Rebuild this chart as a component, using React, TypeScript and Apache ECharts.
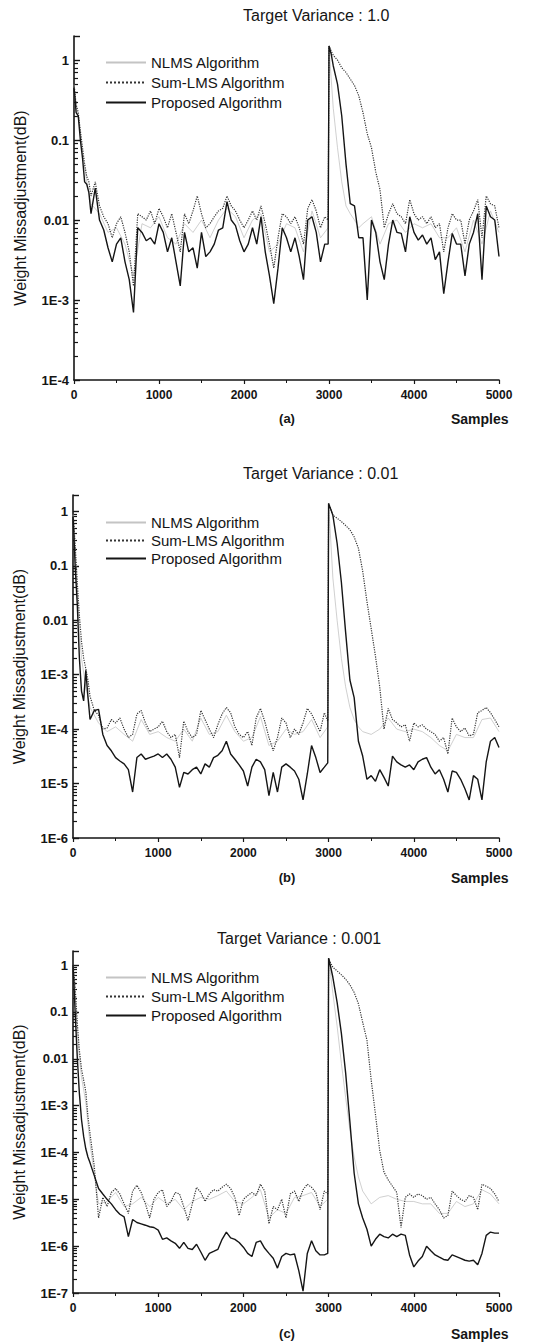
import React, { useEffect, useRef } from 'react';
import * as echarts from 'echarts';

// Sample positions (shared by Sum-LMS and Proposed curves)
const X = [0, 10, 25, 50, 75, 100, 125, 150, 175, 200, 250, 300, 350, 400, 450, 500, 550, 600, 650, 700, 750, 800, 850, 900, 950, 1000, 1050, 1100, 1150, 1200, 1250, 1300, 1350, 1400, 1450, 1500, 1550, 1600, 1650, 1700, 1750, 1800, 1850, 1900, 1950, 2000, 2050, 2100, 2150, 2200, 2250, 2300, 2350, 2400, 2450, 2500, 2550, 2600, 2650, 2700, 2750, 2800, 2850, 2900, 2950, 2990, 3000, 3025, 3050, 3100, 3150, 3200, 3250, 3300, 3350, 3400, 3450, 3500, 3550, 3600, 3650, 3700, 3750, 3800, 3850, 3900, 3950, 4000, 4050, 4100, 4150, 4200, 4250, 4300, 4350, 4400, 4450, 4500, 4550, 4600, 4650, 4700, 4750, 4800, 4850, 4900, 4950, 5000];

// Sample positions for the faint NLMS curves
const NX = [0, 10, 25, 50, 75, 100, 150, 200, 300, 400, 500, 600, 700, 800, 900, 1000, 1100, 1200, 1300, 1400, 1500, 1600, 1700, 1800, 1900, 2000, 2100, 2200, 2300, 2400, 2500, 2600, 2700, 2800, 2900, 2990, 3000, 3025, 3050, 3100, 3150, 3200, 3250, 3300, 3350, 3400, 3500, 3600, 3700, 3800, 3900, 4000, 4100, 4200, 4300, 4400, 4500, 4600, 4700, 4800, 4900, 5000];

// (a) Target variance 1.0
const propA = [0.45, 0.35, 0.22, 0.2, 0.1, 0.06, 0.03, 0.028, 0.022, 0.012,
  0.025, 0.01, 0.0075, 0.0045, 0.003, 0.005, 0.006, 0.003, 0.0018, 0.0007,
  0.008, 0.007, 0.0055, 0.006, 0.005, 0.009, 0.007, 0.004, 0.006, 0.003,
  0.0015, 0.007, 0.004, 0.0045, 0.0025, 0.007, 0.0035, 0.004, 0.005, 0.0075,
  0.008, 0.017, 0.01, 0.0085, 0.0055, 0.004, 0.005, 0.008, 0.005, 0.011,
  0.004, 0.002, 0.0009, 0.0025, 0.008, 0.006, 0.004, 0.006, 0.0035, 0.0018,
  0.01, 0.011, 0.007, 0.003, 0.005, 0.005,
  1.5, 1.2, 0.85, 0.5, 0.2, 0.05, 0.016, 0.015, 0.006, 0.006, 0.001, 0.01, 0.007, 0.003, 0.0018,
  0.005, 0.01, 0.007, 0.0068, 0.004, 0.011, 0.007, 0.0056, 0.0065, 0.005,
  0.006, 0.0032, 0.004, 0.0012, 0.003, 0.0068, 0.005, 0.005, 0.002, 0.005,
  0.007, 0.012, 0.0018, 0.015, 0.011, 0.01, 0.0035];
const sumA = [0.5, 0.4, 0.28, 0.22, 0.13, 0.08, 0.05, 0.035, 0.03, 0.02,
  0.03, 0.015, 0.011, 0.009, 0.006, 0.009, 0.011, 0.007, 0.004, 0.0015,
  0.012, 0.011, 0.01, 0.013, 0.009, 0.014, 0.011, 0.008, 0.012, 0.007,
  0.004, 0.012, 0.009, 0.013, 0.02, 0.012, 0.008, 0.009, 0.011, 0.013,
  0.014, 0.02, 0.015, 0.013, 0.01, 0.008, 0.01, 0.013, 0.01, 0.015,
  0.009, 0.005, 0.0025, 0.006, 0.012, 0.011, 0.009, 0.011, 0.008, 0.005,
  0.014, 0.018, 0.013, 0.008, 0.011, 0.01,
  1.5, 1.3, 1.15, 1.0, 0.8, 0.7, 0.58, 0.48, 0.36, 0.22, 0.12, 0.08, 0.04, 0.024, 0.008,
  0.012, 0.016, 0.012, 0.011, 0.009, 0.018, 0.012, 0.01, 0.011, 0.009,
  0.011, 0.008, 0.009, 0.004, 0.008, 0.012, 0.01, 0.01, 0.005, 0.01,
  0.013, 0.018, 0.006, 0.02, 0.016, 0.015, 0.008];
const nlmsA = [0.5, 0.38, 0.25, 0.2, 0.12, 0.07, 0.03, 0.016, 0.012, 0.007, 0.008, 0.005, 0.002, 0.009, 0.008, 0.011, 0.006, 0.005, 0.009, 0.007, 0.01, 0.006, 0.01, 0.014, 0.011, 0.006, 0.01, 0.012, 0.004, 0.005, 0.009, 0.008, 0.004, 0.013, 0.006, 0.008,
  1.5, 0.6, 0.25, 0.08, 0.03, 0.015, 0.012, 0.01, 0.008, 0.009, 0.011, 0.005, 0.009, 0.01, 0.007, 0.009, 0.008, 0.009, 0.006, 0.006, 0.008, 0.004, 0.01, 0.005, 0.013, 0.007];

// (b) Target variance 0.01
const propB = [0.8, 0.4, 0.1, 0.02, 0.002, 5e-4, 3.3e-4, 1.2e-3, 4e-4, 1.5e-4,
  2.2e-4, 2.3e-4, 8e-5, 5e-5, 4e-5, 3e-5, 2.6e-5, 2.3e-5, 1.8e-5, 7e-6,
  3e-5, 3.5e-5, 2.8e-5, 3e-5, 3.2e-5, 3.5e-5, 3e-5, 3.5e-5, 2.8e-5, 2e-5,
  8.5e-6, 1.6e-5, 1.5e-5, 1.8e-5, 2e-5, 1.5e-5, 2.3e-5, 2e-5, 3e-5, 3.3e-5,
  4e-5, 6e-5, 3.5e-5, 2.8e-5, 2.2e-5, 1.7e-5, 9e-6, 2e-5, 2.8e-5, 2.5e-5,
  1.8e-5, 6e-6, 1.6e-5, 7e-6, 2e-5, 2.3e-5, 2e-5, 1.7e-5, 1.2e-5, 5e-6,
  1.5e-5, 5e-5, 3e-5, 1.6e-5, 2e-5, 2.4e-5,
  1.4, 1.1, 0.85, 0.26, 0.05, 6e-3, 8e-4, 3.8e-4, 6e-5, 3.2e-5, 1.2e-5, 1.4e-5, 1.1e-5, 1.8e-5, 1.3e-5,
  9e-6, 3.2e-5, 2.5e-5, 2.2e-5, 2e-5, 2.2e-5, 1.8e-5, 2.5e-5, 2.8e-5, 3e-5,
  2e-5, 1.5e-5, 1.8e-5, 1.2e-5, 7e-6, 1.7e-5, 1.6e-5, 1.2e-5, 8e-6, 5e-6,
  1.4e-5, 1.2e-5, 5e-6, 2.5e-5, 6e-5, 7e-5, 4.6e-5];
const sumB = [0.9, 0.6, 0.25, 0.05, 0.012, 4e-3, 2e-3, 1.3e-3, 8e-4, 4e-4,
  2.2e-4, 1.8e-4, 1e-4, 1.05e-4, 1.5e-4, 1.3e-4, 1.6e-4, 1e-4, 7e-5, 8e-5,
  1.9e-4, 2.2e-4, 1.3e-4, 9e-5, 1e-4, 1.1e-4, 1.4e-4, 9e-5, 7e-5, 8e-5,
  3e-5, 1.4e-4, 9e-5, 7e-5, 8e-5, 2.2e-4, 1.5e-4, 1e-4, 7e-5, 1.2e-4,
  1.9e-4, 2.5e-4, 2e-4, 1.1e-4, 8e-5, 7e-5, 9e-5, 5e-5, 1.6e-4, 2.4e-4,
  1.4e-4, 7e-5, 4e-5, 7e-5, 1.6e-4, 1.3e-4, 7e-5, 1e-4, 8e-5, 1.3e-4,
  2.4e-4, 1.9e-4, 1.3e-4, 9e-5, 2e-4, 1.4e-4,
  1.4, 1.1, 0.85, 0.75, 0.65, 0.55, 0.46, 0.34, 0.21, 0.08, 0.022, 7e-3, 2.2e-3, 6e-4, 1e-4,
  2.4e-4, 1.5e-4, 1.3e-4, 1.1e-4, 1.2e-4, 6e-5, 1.3e-4, 1.1e-4, 1.2e-4, 1e-4,
  9e-5, 8e-5, 6e-5, 7e-5, 3.5e-5, 1.6e-4, 1.1e-4, 9e-5, 1.05e-4, 7.5e-5,
  8e-5, 2e-4, 2.2e-4, 2.5e-4, 2e-4, 1.5e-4, 1.1e-4];
const nlmsB = [0.9, 0.5, 0.18, 0.035, 6e-3, 2e-3, 6e-4, 2.5e-4, 1.3e-4, 9e-5, 1.1e-4, 8e-5, 6e-5, 1.5e-4, 8e-5, 9e-5, 7e-5, 6e-5, 1e-4, 6e-5, 1.6e-4, 8e-5, 9e-5, 1.8e-4, 9e-5, 6e-5, 7e-5, 1.7e-4, 5e-5, 6e-5, 1e-4, 8e-5, 9e-5, 1.5e-4, 7e-5, 1.1e-4,
  1.4, 0.3, 0.06, 0.01, 2e-3, 6e-4, 2.5e-4, 1.5e-4, 1.1e-4, 9e-5, 8e-5, 1e-4, 1.6e-4, 1e-4, 9e-5, 1e-4, 9e-5, 7e-5, 5e-5, 4e-5, 8e-5, 7e-5, 7e-5, 1.5e-4, 1.6e-4, 9e-5];

// (c) Target variance 0.001
const propC = [1.0, 0.45, 0.1, 0.011, 1.8e-3, 5e-4, 2.2e-4, 1.2e-4, 8e-5, 6e-5,
  3.2e-5, 1.7e-5, 1.3e-5, 1e-5, 8e-6, 6e-6, 4.8e-6, 4.2e-6, 1.6e-6, 3.7e-6,
  3.2e-6, 3e-6, 2.8e-6, 2.6e-6, 2.5e-6, 2.2e-6, 1.4e-6, 1.5e-6, 1.3e-6, 1.15e-6,
  9e-7, 1.2e-6, 9e-7, 8.5e-7, 1.1e-6, 7.5e-7, 5e-7, 7e-7, 7.7e-7, 8.5e-7,
  1.4e-6, 2e-6, 1.5e-6, 1.4e-6, 1.2e-6, 9.5e-7, 7e-7, 6e-7, 1.2e-6, 1.3e-6,
  9e-7, 7e-7, 5.5e-7, 3.4e-7, 6e-7, 7e-7, 6.5e-7, 6.8e-7, 3e-7, 1.1e-7,
  7e-7, 1.3e-6, 8e-7, 6.5e-7, 6.5e-7, 7e-7,
  1.4, 0.9, 0.55, 0.16, 0.035, 5e-3, 4.5e-4, 3.6e-5, 8e-6, 4e-6, 2.3e-6, 1e-6, 1.4e-6, 1.8e-6, 1.6e-6,
  1.5e-6, 1.8e-6, 1.6e-6, 1.8e-6, 1.7e-6, 6.5e-7, 3.6e-7, 4.8e-7, 6e-7, 1e-6,
  8e-7, 6.5e-7, 5.8e-7, 5.2e-7, 5e-7, 6.5e-7, 6e-7, 5.5e-7, 5e-7, 4.8e-7,
  5e-7, 4e-7, 7e-7, 1.7e-6, 2e-6, 1.9e-6, 1.9e-6];
const sumC = [1.0, 0.7, 0.35, 0.06, 0.015, 6e-3, 3.5e-3, 2e-3, 6e-4, 2.5e-4,
  5e-5, 4e-6, 1.1e-5, 7e-6, 1.4e-5, 1.7e-5, 1.3e-5, 8e-6, 5e-6, 1.5e-5,
  2e-5, 1.4e-5, 8e-6, 4e-6, 1e-5, 1.4e-5, 1.6e-5, 7e-6, 9e-6, 1.4e-5,
  1.3e-5, 7e-6, 3.5e-6, 8e-6, 1.8e-5, 1.4e-5, 9e-6, 1.3e-5, 1.6e-5, 1.5e-5,
  1.8e-5, 2.1e-5, 1.7e-5, 1.1e-5, 4.5e-6, 1e-5, 1.2e-5, 1.4e-5, 1.2e-5, 2.1e-5,
  1.5e-5, 3e-6, 7e-6, 6e-6, 1e-5, 4e-6, 1.3e-5, 1.5e-5, 9e-6, 1.6e-5,
  2.1e-5, 1.8e-5, 1.4e-5, 6e-6, 1.5e-5, 1.3e-5,
  1.4, 1.1, 0.9, 0.75, 0.62, 0.5, 0.38, 0.26, 0.15, 0.06, 0.025, 3.5e-3, 6.5e-4, 1.1e-4, 3.8e-5,
  2.6e-5, 1.9e-5, 1.4e-5, 2.5e-6, 1.1e-5, 1.3e-5, 1.1e-5, 1.3e-5, 1.2e-5, 1e-5,
  1.1e-5, 8e-6, 6e-6, 4e-6, 4.5e-6, 1.5e-5, 1.2e-5, 1e-5, 9e-6, 1.2e-5,
  1.1e-5, 6e-6, 2.1e-5, 1.9e-5, 1.7e-5, 1.3e-5, 9e-6];
const nlmsC = [1.0, 0.6, 0.25, 0.04, 0.01, 4e-3, 1.2e-3, 1.5e-4, 8e-6, 9e-6, 1.4e-5, 7e-6, 8e-6, 1.1e-5, 7e-6, 1.1e-5, 8e-6, 1e-5, 6e-6, 9e-6, 1.1e-5, 1e-5, 1.2e-5, 1.5e-5, 9e-6, 8e-6, 1.1e-5, 1.6e-5, 4e-6, 6e-6, 5e-6, 1.1e-5, 1.2e-5, 1.4e-5, 7e-6, 1e-5,
  1.4, 0.6, 0.25, 0.05, 8e-3, 1.5e-3, 3e-4, 8e-5, 3e-5, 1.5e-5, 8e-6, 1.1e-5, 1.2e-5, 1e-5, 9e-6, 9e-6, 8e-6, 8e-6, 5e-6, 5e-6, 9e-6, 7e-6, 8e-6, 1.6e-5, 1.3e-5, 8e-6];

const TITLES = ['Target Variance : 1.0', 'Target Variance : 0.01', 'Target Variance : 0.001'];
const TAGS = ['(a)', '(b)', '(c)'];
const NAMES = ['NLMS Algorithm', 'Sum-LMS Algorithm', 'Proposed Algorithm'];
const Y_MIN = [1e-4, 1e-6, 1e-7];
const Y_MAX = 2;
const X_MAX = 5000;
const X_STEP = 1000;
const Y_NAME = 'Weight Missadjustment(dB)';
const X_NAME = 'Samples';

const PANELS = [
  { nlms: nlmsA, sum: sumA, prop: propA },
  { nlms: nlmsB, sum: sumB, prop: propB },
  { nlms: nlmsC, sum: sumC, prop: propC },
];

const zip = (xs: number[], ys: number[]) => xs.map((x, i) => [x, ys[i]]);

// minor tick values (2..9 x each decade) for a log axis
const minorTicks = (min: number, max: number) => {
  const out: number[] = [];
  for (let d = min; d < max; d *= 10) {
    for (let k = 2; k <= 9; k++) {
      const v = +(d * k).toPrecision(6);
      if (v < max) out.push(v);
    }
  }
  return out;
};

export default function App() {
  const ref = useRef<HTMLDivElement>(null);
  useEffect(() => {
    document.body.style.margin = '0';
    const chart = echarts.init(ref.current!, null, { renderer: 'svg' });
    const font = '"Liberation Sans", Arial, sans-serif';
    const ink = '#151515';
    const grids = [
      { left: 74, top: 36, width: 425, height: 344 },
      { left: 73, top: 495, width: 426, height: 343 },
      { left: 73, top: 951, width: 426, height: 342 },
    ];
    const titleTop = [7, 465, 930];
    const titleLeft = [243, 243, 217];
    const legendTop = [50, 510, 965];
    const legendGap = [5, 3, 4];
    const tagY = [418, 877, 1333];
    const yFmt = (v: number) => {
      const l = Math.log10(v);
      const e = Math.round(l);
      if (Math.abs(l - e) > 1e-6) return '';
      if (e >= -2) return ['0.01', '0.1', '1'][e + 2];
      return '1E' + e;
    };
    const series: any[] = [];
    PANELS.forEach((p, i) => {
      series.push({
        name: NAMES[0], type: 'line', xAxisIndex: i, yAxisIndex: i, symbol: 'none', showSymbol: false,
        data: zip(NX, p.nlms), lineStyle: { color: '#c4c4c4', width: 0.8 }, itemStyle: { color: '#c4c4c4' }, z: 1,
      });
      series.push({
        name: NAMES[1], type: 'line', xAxisIndex: i, yAxisIndex: i, symbol: 'none', showSymbol: false,
        data: zip(X, p.sum), lineStyle: { color: '#333', width: 1.2, type: 'dotted' }, itemStyle: { color: '#333' }, z: 2,
      });
      series.push({
        name: NAMES[2], type: 'line', xAxisIndex: i, yAxisIndex: i, symbol: 'none', showSymbol: false,
        data: zip(X, p.prop), lineStyle: { color: ink, width: 1.4 }, itemStyle: { color: ink }, z: 3,
      });
    });
    const graphic: any[] = [];
    grids.forEach((g, i) => {
      graphic.push({
        type: 'text', x: 287, y: tagY[i],
        style: { text: TAGS[i], fill: ink, font: `bold 13px ${font}`, align: 'center', verticalAlign: 'middle', textAlign: 'center', textVerticalAlign: 'middle' },
      });
      graphic.push({
        type: 'text', x: 451, y: tagY[i] + 1,
        style: { text: X_NAME, fill: ink, font: `bold 14px ${font}`, align: 'left', verticalAlign: 'middle', textAlign: 'left', textVerticalAlign: 'middle' },
      });
    });
    const yMain = grids.map((g, i) => ({
      type: 'log', gridIndex: i, min: Y_MIN[i], max: Y_MAX, logBase: 10, splitNumber: 10,
      name: Y_NAME, nameLocation: 'middle', nameGap: 46,
      nameTextStyle: { fontSize: 16, color: ink, fontFamily: font },
      axisLine: { show: true, lineStyle: { color: ink, width: 1.6 } },
      axisTick: { show: true, inside: true, length: 6, lineStyle: { color: ink, width: 1.4 } },
      axisLabel: { fontSize: 13, fontWeight: 'bold', color: ink, margin: 5, fontFamily: font, formatter: yFmt },
      splitLine: { show: false },
    }));
    const yMinor = grids.map((g, i) => ({
      type: 'log', gridIndex: i, min: Y_MIN[i], max: Y_MAX, logBase: 10, position: 'left', offset: 0,
      axisLine: { show: false },
      axisTick: { show: true, inside: true, length: 4, customValues: minorTicks(Y_MIN[i], Y_MAX), lineStyle: { color: ink, width: 1.2 } },
      axisLabel: { show: false },
      splitLine: { show: false },
    }));
    chart.setOption({
      animation: false,
      backgroundColor: '#ffffff',
      textStyle: { fontFamily: font },
      title: TITLES.map((t, i) => ({
        text: t, left: titleLeft[i], top: titleTop[i], padding: 0,
        textStyle: { fontSize: 16, fontWeight: 'normal', color: ink, fontFamily: font },
      })),
      legend: grids.map((g, i) => ({
        orient: 'vertical', left: 100, top: legendTop[i], itemWidth: 40, itemHeight: 8, itemGap: legendGap[i],
        selectedMode: false, data: NAMES, itemStyle: { opacity: 0 },
        textStyle: { fontSize: 15, color: ink, fontFamily: font, lineHeight: 14 },
      })),
      grid: grids,
      xAxis: grids.map((g, i) => ({
        type: 'value', gridIndex: i, min: 0, max: X_MAX, interval: X_STEP,
        axisLine: { show: true, lineStyle: { color: ink, width: 1.6 } },
        axisTick: { show: true, length: 4, lineStyle: { color: ink, width: 1.2 } },
        minorTick: { show: true, splitNumber: 2, length: 3, lineStyle: { color: ink, width: 1 } },
        axisLabel: { fontSize: 12, fontWeight: 'bold', color: ink, margin: 9, fontFamily: font, formatter: (v: number) => String(v) },
        splitLine: { show: false },
      })),
      yAxis: [...yMain, ...yMinor],
      series,
      graphic,
    });
    return () => chart.dispose();
  }, []);
  return <div ref={ref} style={{ width: 553, height: 1342 }} />;
}
